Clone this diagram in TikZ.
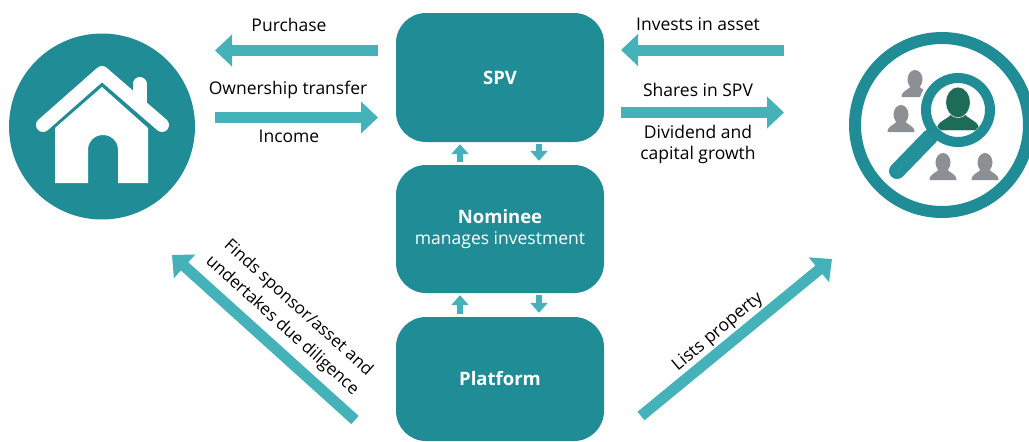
\documentclass[tikz,border=0pt]{standalone}
\usepackage{fontspec}
\setmainfont{Open Sans}
\usetikzlibrary{arrows.meta}
\definecolor{boxteal}{HTML}{1F8C96}
\definecolor{arrowteal}{HTML}{45B1B8}
\definecolor{usergray}{HTML}{8C8F93}
\definecolor{usergreen}{HTML}{1E6B58}
\tikzset{
  boxnode/.style={fill=boxteal,text=white,rounded corners=30pt,minimum width=208pt,font=\fontsize{18.5}{22}\selectfont\bfseries,align=center},
  bigarrow/.style={arrowteal,line width=11pt,-{Triangle[length=17pt,width=31pt]}},
  smallarrow/.style={arrowteal,line width=6pt,-{Triangle[length=10pt,width=17pt]}},
  lbl/.style={font=\fontsize{17.5}{21}\selectfont,text=black,inner sep=0pt},
  person/.pic={
    \path[pic actions] (-13.5,27) .. controls (-13.5,20) and (-5,20) .. (-3.5,15) -- (3.5,15) .. controls (5,20) and (13.5,20) .. (13.5,27) -- cycle;
    \path[pic actions] (0,9.5) ellipse (7.5 and 9.5);
  }
}
\begin{document}
\begin{tikzpicture}[x=1pt,y=-1pt]
  \useasboundingbox (0,0) rectangle (1029,442);
  % centre column
  \node[boxnode,minimum height=129pt] (spv) at (500,77.5) {SPV};
  \node[boxnode,minimum height=128pt] (nominee) at (500,229) {};
  \node[font=\fontsize{18.5}{22}\selectfont\bfseries,text=white,inner sep=0pt] (nomineetop) at (500,217) {Nominee};
  \node[font=\fontsize{17.5}{21}\selectfont,text=white,inner sep=0pt] (nomineesub) at (500,240) {manages investment};
  \node[boxnode,minimum height=124pt] (platform) at (500,379) {Platform};
  \foreach \a/\b in {nominee/spv,platform/nominee} {
    \draw[smallarrow,shorten <=3pt,shorten >=2pt] ([xshift=-40pt]\a.north) -- ([xshift=-40pt]\b.south);
    \draw[smallarrow,shorten <=1.5pt,shorten >=4pt] ([xshift=39pt]\b.south) -- ([xshift=39pt]\a.north);
  }
  % house
  \node[circle,fill=boxteal,minimum size=186pt,inner sep=0pt] (house) at (102,126.5) {};
  \fill[white] (55,183) -- (55,128) -- (102,87) -- (148,128) -- (148,183) -- (118,183) -- (118,150)
    .. controls (118,141) and (111,135) .. (103,135) .. controls (95,135) and (88,141) .. (88,150) -- (88,183) -- cycle;
  \draw[white,line width=14pt,line cap=round,line join=round] (43,125) -- (102,73) -- (162,125);
  \draw[white,line width=14pt,line cap=round] (139.5,84) -- (139.5,105);
  % investors
  \node[circle,draw=boxteal,line width=12pt,minimum size=174pt,inner sep=0pt] (investors) at (942,125) {};
  \foreach \px/\py in {915/70,901/105,943/153,985/153} {
    \pic[fill=usergray] at (\px,\py) {person};
  }
  \fill[white] (958,110) circle (40);
  \draw[boxteal!90!arrowteal,line width=16pt,line cap=round] (930,137) -- (897,171);
  \node[circle,fill=white,draw=boxteal,line width=10pt,minimum size=64pt,inner sep=0pt] (lens) at (958,110) {};
  \begin{scope}
    \clip (958,110) circle (26.5);
    \pic[fill=usergreen,draw=white,line width=.5pt,scale=1.62] at (958,87) {person};
  \end{scope}
  % big arrows
  \coordinate (purchasetail) at (378,50.5);
  \coordinate (purchasetip) at (215,50.5);
  \coordinate (incometail) at (215,117.5);
  \coordinate (incometip) at (378,117.5);
  \coordinate (investstail) at (784,50);
  \coordinate (investstip) at (621,50);
  \coordinate (sharestail) at (621,112.5);
  \coordinate (sharestip) at (784,112.5);
  \coordinate (findstail) at (355,420);
  \coordinate (findstip) at (172,255);
  \coordinate (liststail) at (641,416);
  \coordinate (liststip) at (832,259);
  \foreach \a/\b in {purchasetail/purchasetip,incometail/incometip,investstail/investstip,sharestail/sharestip,findstail/findstip,liststail/liststip} {
    \draw[bigarrow] (\a) -- (\b);
  }
  % labels
  \node[lbl] (purchase) at (289,25) {Purchase};
  \node[lbl] (ownership) at (288,90) {Ownership transfer};
  \node[lbl] (income) at (289,136) {Income};
  \node[lbl] (invests) at (698,24) {Invests in asset};
  \node[lbl] (shares) at (698,90) {Shares in SPV};
  \node[lbl,align=center,anchor=north] (dividend) at (698,125) {Dividend and\\capital growth};
  \node[lbl,align=center,rotate=-42,font=\fontsize{17}{24}\selectfont] (finds) at (290,317) {Finds sponsor/asset and\\undertakes due diligence};
  \node[lbl,rotate=40] (lists) at (718,332) {Lists property};
\end{tikzpicture}
\end{document}
